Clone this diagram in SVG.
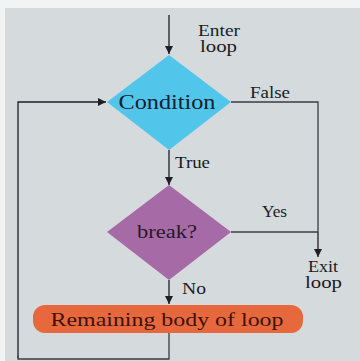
<svg xmlns="http://www.w3.org/2000/svg" width="360" height="361" viewBox="0 0 360 361">
<defs>
<marker id="ah" viewBox="0 0 10 10" refX="10" refY="5" markerWidth="8" markerHeight="8" markerUnits="userSpaceOnUse" orient="auto">
<path d="M0,0 L10,5 L0,10 Z" fill="#1e1e24"/>
</marker>
<style>
.ln{fill:none;stroke:#3a3c42;stroke-width:1.3}
.ar{fill:none;stroke:#1e1e24;stroke-width:1.3;marker-end:url(#ah)}
.lb{font-family:"Liberation Serif",serif;font-size:16px;fill:#1a1c22}
.nt{font-family:"Liberation Serif",serif;text-anchor:middle}
</style>
</defs>
<rect width="360" height="361" fill="#f2f4f4"/>
<rect x="5" y="8" width="355" height="353" fill="#d5dadd"/>
<g id="connectors">
<path class="ar" d="M169,15 V54"/>
<path class="ar" d="M18,358 V102 H106"/>
<path class="ln" d="M231,102 H318 V232"/>
<path class="ar" d="M318,232 V257"/>
<path class="ln" d="M231,232 H318"/>
<path class="ar" d="M169,150 V185"/>
<path class="ar" d="M169,280 V304"/>
<path class="ln" d="M169,333 V359 H18 V356"/>
<text class="lb" x="198" y="36" textLength="42" lengthAdjust="spacingAndGlyphs">Enter</text>
<text class="lb" x="200" y="52" textLength="37" lengthAdjust="spacingAndGlyphs">loop</text>
<text class="lb" x="250" y="98" textLength="40" lengthAdjust="spacingAndGlyphs">False</text>
<text class="lb" x="175" y="168" textLength="35" lengthAdjust="spacingAndGlyphs">True</text>
<text class="lb" x="262" y="217" textLength="25" lengthAdjust="spacingAndGlyphs">Yes</text>
<text class="lb" x="308" y="272" textLength="30" lengthAdjust="spacingAndGlyphs">Exit</text>
<text class="lb" x="305" y="288" textLength="37" lengthAdjust="spacingAndGlyphs">loop</text>
<text class="lb" x="182" y="294" textLength="24" lengthAdjust="spacingAndGlyphs">No</text>
</g>
<g id="condition">
<polygon points="169,55 231,102 169,150 107,102" fill="#52c6ea"/>
<text class="nt" x="167" y="109" font-size="22" fill="#15202e" textLength="97" lengthAdjust="spacingAndGlyphs">Condition</text>
</g>
<g id="break">
<polygon points="169,185 231,232 169,280 107,232" fill="#a66ba6"/>
<text class="nt" x="167" y="238" font-size="18" fill="#2a1828" textLength="60" lengthAdjust="spacingAndGlyphs">break?</text>
</g>
<g id="body">
<rect x="33" y="305" width="270" height="28" rx="12" fill="#e8683e"/>
<text class="nt" x="167" y="326" font-size="19" fill="#3a140c" textLength="233" lengthAdjust="spacingAndGlyphs">Remaining body of loop</text>
</g>
</svg>
